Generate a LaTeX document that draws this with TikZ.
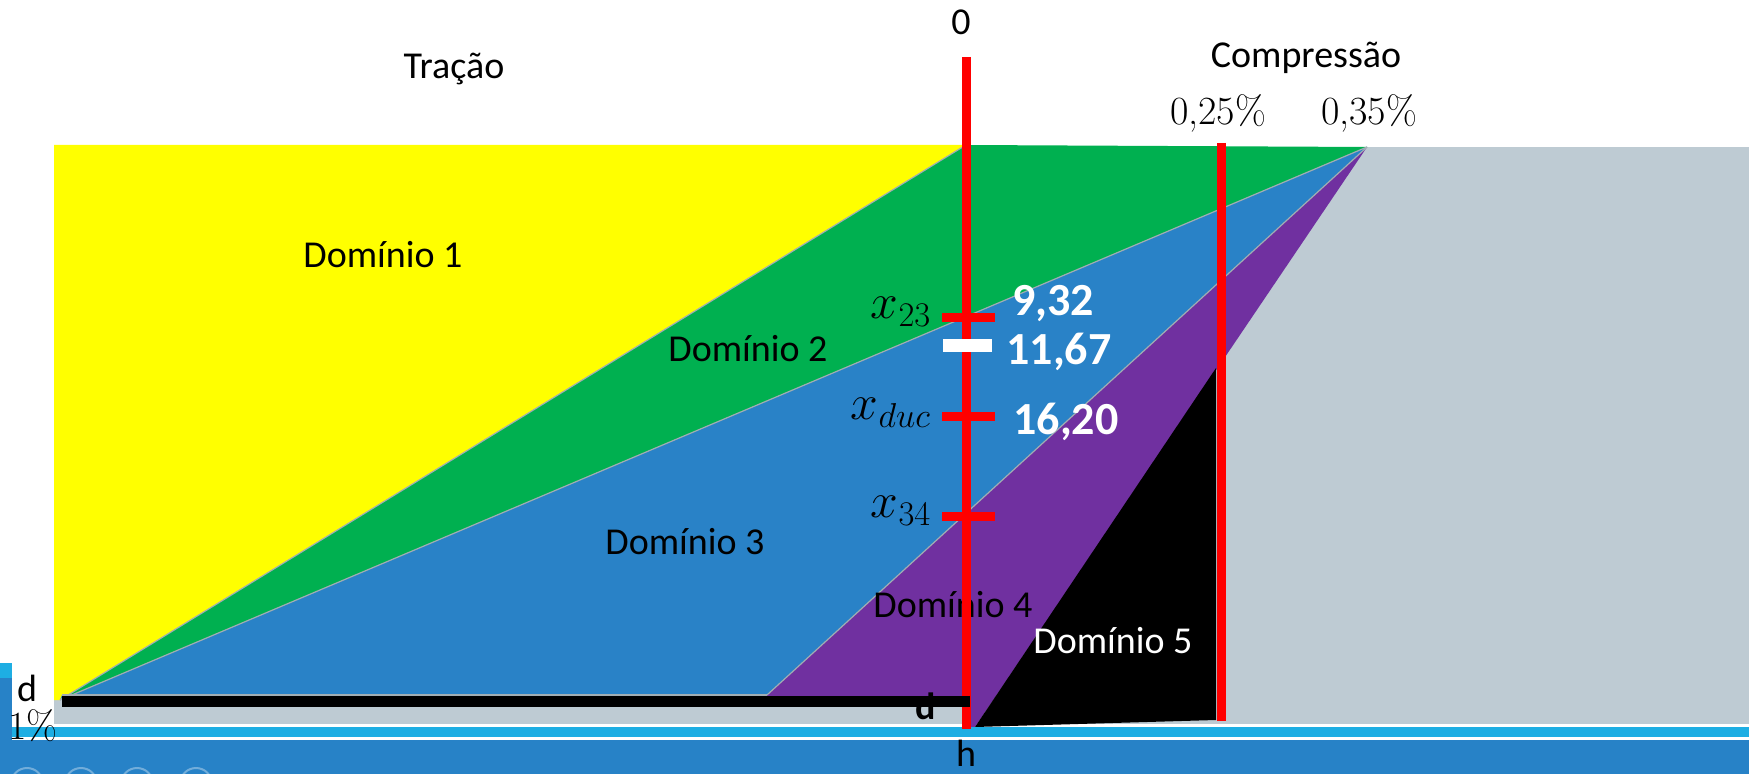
\documentclass[tikz,border=0pt]{standalone}
\usepackage{fontspec}
\newfontfamily\calib{Carlito}
\definecolor{ylw}{RGB}{255,255,0}
\definecolor{grn}{RGB}{0,176,80}
\definecolor{blu}{RGB}{41,130,199}
\definecolor{prp}{RGB}{112,48,160}
\definecolor{gry}{RGB}{190,203,211}
\definecolor{lblu}{RGB}{30,174,227}
\definecolor{dblu}{RGB}{39,130,199}
\definecolor{rd}{RGB}{255,0,0}
\tikzset{
  lab/.style={font=\calib\fontsize{19}{23}\selectfont, inner sep=0pt},
  num/.style={font=\calib\bfseries\fontsize{23}{27}\selectfont, text=white, inner sep=0pt},
  pct/.style={font=\rmfamily\fontsize{20}{24}\selectfont, inner sep=0pt},
  mth/.style={font=\fontsize{23}{27}\selectfont, inner sep=0pt},
  edge/.style={draw=gry!85!black, line width=0.6pt},
  redln/.style={draw=rd, line width=4.5pt},
  redtick/.style={draw=rd, line width=4.5pt},
  whtick/.style={draw=white, line width=6.5pt},
  blkln/.style={draw=black, line width=5.5pt},
  dot/.style={draw=white, draw opacity=0.35, line width=1pt}
}
\begin{document}
\begin{tikzpicture}[x=0.5pt,y=-0.5pt]
\useasboundingbox (0,0) rectangle (1749,774);
% key points
\coordinate (pd) at (60,700);
\coordinate (p0) at (966,145);
\coordinate (p35) at (1367,147);
\coordinate (pb) at (767,695);
\coordinate (ph) at (975,727);
\coordinate (k25) at (1216,368);
\coordinate (k25b) at (1216,720);
% background regions
\fill[gry] (54,147) rectangle (1749,724);
\fill[ylw] (54,145) -- (p0) -- (pd) -- (54,700) -- cycle;
\fill[grn] (p0) -- (p35) -- (pd) -- cycle;
\fill[blu] (pd) -- (p35) -- (pb) -- (62,695) -- cycle;
\fill[prp] (pb) -- (p35) -- (ph) -- (966,727) -- (966,700) -- (767,700) -- cycle;
\fill[black] (ph) -- (k25) -- (k25b) -- cycle;
\draw[edge] (pd) -- (p0);
\draw[edge] (pd) -- (p35);
\draw[edge] (pb) -- (p35);
\draw[edge] (62,695) -- (pb);
% bottom stripes (slide frame)
\fill[lblu] (12,727) rectangle (1749,737);
\fill[dblu] (0,740) rectangle (1749,774);
\fill[lblu] (0,663) rectangle (12,678);
\fill[dblu] (0,678) rectangle (12,740);
\foreach \cx in {27,81,137,196} \draw[dot] (\cx,784) circle (16);
% texts
\node[lab] (trac) at (454,69) {Tração};
\node[lab] (comp) at (1306,58) {Compressão};
\node[pct] (p25) at (1218,113) {0,25\%};
\node[pct] (p35l) at (1369,113) {0,35\%};
\node[lab] (d1) at (383,255) {Domínio 1};
\node[lab] (d2) at (748,349) {Domínio 2};
\node[lab] (d3) at (685,542) {Domínio 3};
\node[lab] (d4) at (953,605) {Domínio 4};
\node[lab, text=white] (d5) at (1113,641) {Domínio 5};
\node[lab] (zero) at (961,22) {0};
\node[lab] (hh) at (966,753) {h};
\node[lab] (dl) at (27,688) {d};
\node[pct] (onep) at (33,726) {1\%};
\node[mth] (x23) at (901,312) {$x_{23}$};
\node[mth] (xduc) at (891,413) {$x_{duc}$};
\node[mth] (x34) at (901,511) {$x_{34}$};
\node[num] (n1) at (1053,304) {9,32};
\node[num] (n2) at (1059,352) {11,67};
\node[num] (n3) at (1066,422) {16,20};
% strain lines
\coordinate (ax0) at (966,57);
\coordinate (ax1) at (966,729);
\draw[redln] (ax0) -- (ax1);
\coordinate (r25a) at (1221,143);
\coordinate (r25b) at (1221,721);
\draw[redln] (r25a) -- (r25b);
\draw[redtick] (942,318) -- (995,318);
\draw[whtick] (943,346) -- (992,346);
\draw[redtick] (942,417) -- (995,417);
\draw[redtick] (942,516) -- (995,516);
\draw[blkln] (62,701) -- (970,701);
\node[lab, font=\calib\bfseries\fontsize{19}{23}\selectfont] (dd) at (926,706) {d};
\end{tikzpicture}
\end{document}
